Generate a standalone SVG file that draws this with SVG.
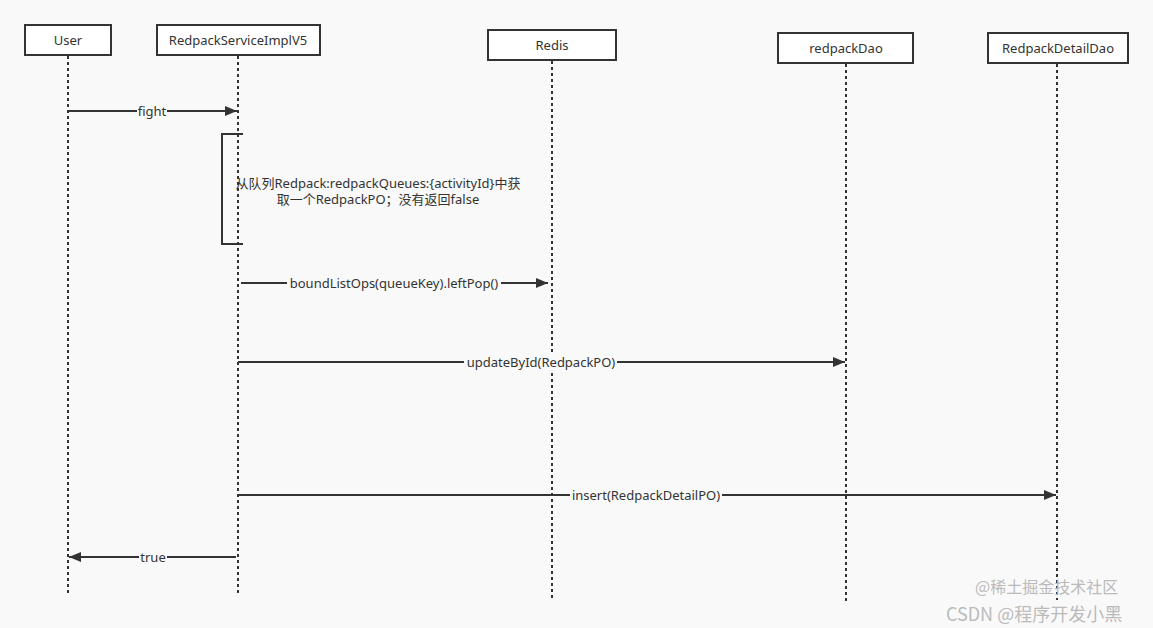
<svg xmlns="http://www.w3.org/2000/svg" width="1153" height="628" viewBox="0 0 1153 628">
<style>
.box{fill:#fff;stroke:#333;stroke-width:2}
.life{stroke:#333;stroke-width:2;stroke-dasharray:3 3;fill:none}
.msg{stroke:#333;stroke-width:2;fill:none}
.t{font-family:"Noto Sans","Noto Sans CJK SC",sans-serif;font-size:13px;fill:#333;text-anchor:middle}
.lb{fill:#f9f9f9}
.wm{font-family:"Noto Sans CJK SC",sans-serif;fill:#bbb}
</style>
<defs>
<marker id="ah" viewBox="0 0 12 10" refX="12" refY="5" markerWidth="12" markerHeight="10" markerUnits="userSpaceOnUse" orient="auto">
<path d="M0,0 L12,5 L0,10 Z" fill="#333"/>
</marker>
</defs>
<rect width="1153" height="628" fill="#f9f9f9"/>
<g id="lifelines">
<line class="life" x1="68" y1="56" x2="68" y2="595"/>
<line class="life" x1="238" y1="56" x2="238" y2="595"/>
<line class="life" x1="552" y1="61" x2="552" y2="600"/>
<line class="life" x1="846" y1="64" x2="846" y2="603"/>
<line class="life" x1="1057" y1="64" x2="1057" y2="600"/>
</g>
<g id="user"><rect class="box" x="25" y="25" width="86" height="30"/><text class="t" x="68" y="45">User</text></g>
<g id="service"><rect class="box" x="157" y="25" width="163" height="30"/><text class="t" x="238" y="45">RedpackServiceImplV5</text></g>
<g id="redis"><rect class="box" x="488" y="30" width="128" height="30"/><text class="t" x="552" y="50">Redis</text></g>
<g id="redpackDao"><rect class="box" x="778" y="33" width="135" height="30"/><text class="t" x="846" y="53">redpackDao</text></g>
<g id="redpackDetailDao"><rect class="box" x="988" y="33" width="140" height="30"/><text class="t" x="1058" y="53">RedpackDetailDao</text></g>
<g id="activation">
<path class="msg" d="M243,134 H222 V244 H243"/>
<text class="t" x="378" y="188">从队列Redpack:redpackQueues:{activityId}中获</text>
<text class="t" x="378" y="204">取一个RedpackPO；没有返回false</text>
</g>
<g id="connectors">
<line class="msg" x1="68" y1="111" x2="237" y2="111" marker-end="url(#ah)"/>
<rect class="lb" x="137" y="104" width="30" height="15"/>
<text class="t" x="152" y="116">fight</text>
<line class="msg" x1="241" y1="283" x2="548" y2="283" marker-end="url(#ah)"/>
<rect class="lb" x="287" y="276" width="214" height="15"/>
<text class="t" x="394" y="288">boundListOps(queueKey).leftPop()</text>
<line class="msg" x1="238" y1="362" x2="845" y2="362" marker-end="url(#ah)"/>
<rect class="lb" x="464" y="355" width="153" height="15"/>
<text class="t" x="541" y="367">updateById(RedpackPO)</text>
<line class="msg" x1="237" y1="495" x2="1056" y2="495" marker-end="url(#ah)"/>
<rect class="lb" x="570" y="488" width="152" height="15"/>
<text class="t" x="646" y="500">insert(RedpackDetailPO)</text>
<line class="msg" x1="236" y1="557" x2="69" y2="557" marker-end="url(#ah)"/>
<rect class="lb" x="139" y="550" width="28" height="15"/>
<text class="t" x="153" y="562">true</text>
</g>
<text class="wm" x="975" y="593" font-size="16">@稀土掘金技术社区</text>
<text class="wm" x="946" y="621" font-size="18">CSDN @程序开发小黑</text>
</svg>
